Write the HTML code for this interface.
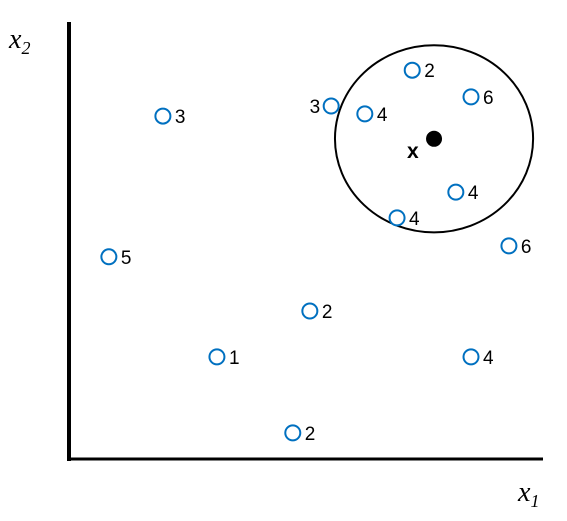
<!DOCTYPE html>
<html><head><meta charset="utf-8"><style>
html,body{margin:0;padding:0;background:#fff;}
svg{display:block;font-family:"Liberation Sans",sans-serif;}
</style></head><body>
<svg id="chart" width="567" height="521" viewBox="0 0 567 521">
  <line x1="69" y1="22" x2="69" y2="461" stroke="#000" stroke-width="4"/>
  <line x1="67" y1="459" x2="543" y2="459" stroke="#000" stroke-width="3"/>
  <text x="9" y="48" font-family="Liberation Serif, serif" font-style="italic" font-size="28">x<tspan font-size="18" dy="6">2</tspan></text>
  <text x="518" y="501" font-family="Liberation Serif, serif" font-style="italic" font-size="28">x<tspan font-size="18" dy="6">1</tspan></text>
  <g id="marks"></g>
</svg>
<script>
const xs = [19.6, 8.2, 31.0, 50.6, 47.0, 55.1, 62.2, 72.2, 84.6, 81.4, 69.0, 92.6, 84.6];
const ys = [78.7, 46.5, 23.6, 34.1, 6.2, 81.0, 79.2, 89.2, 83.1, 61.3, 55.4, 49.0, 23.6];
const labels = ["3","5","1","2","2","3","4","2","6","4","4","6","4"];
const labelLeft = [false,false,false,false,false,true,false,false,false,false,false,false,false];
const query = [76.8, 73.5];
const radius = [20.9, 21.4];
function sx(v){return 70+v*4.74;}
function sy(v){return 460-v*4.37;}
const NS="http://www.w3.org/2000/svg";
const g=document.getElementById('marks');
const c=document.createElementNS(NS,'ellipse');


c.setAttribute('cx',sx(query[0]));c.setAttribute('cy',sy(query[1]));
c.setAttribute('rx',radius[0]*4.74);c.setAttribute('ry',radius[1]*4.37);
c.setAttribute('fill','none');c.setAttribute('stroke','#000');c.setAttribute('stroke-width','2');
g.appendChild(c);
for(let i=0;i<xs.length;i++){
  const p=document.createElementNS(NS,'circle');
  
  
  p.setAttribute('cx',sx(xs[i]));p.setAttribute('cy',sy(ys[i]));p.setAttribute('r','7.5');
  p.setAttribute('fill','#fff');p.setAttribute('stroke','#0070C0');p.setAttribute('stroke-width','2');
  g.appendChild(p);
  const t=document.createElementNS(NS,'text');
  
  
  t.setAttribute('x',labelLeft[i]?sx(xs[i])-11:sx(xs[i])+12);
  t.setAttribute('y',sy(ys[i])+7);
  t.setAttribute('text-anchor',labelLeft[i]?'end':'start');
  t.setAttribute('font-size','19');
  t.textContent=labels[i];
  g.appendChild(t);
}
const q=document.createElementNS(NS,'circle');


q.setAttribute('cx',sx(query[0]));q.setAttribute('cy',sy(query[1]));q.setAttribute('r','8');
g.appendChild(q);
const qt=document.createElementNS(NS,'text');


qt.setAttribute('x',sx(query[0])-27);qt.setAttribute('y',sy(query[1])+19);
qt.setAttribute('font-size','21');qt.setAttribute('font-weight','bold');
qt.textContent='x';
g.appendChild(qt);
</script>
</body></html>
